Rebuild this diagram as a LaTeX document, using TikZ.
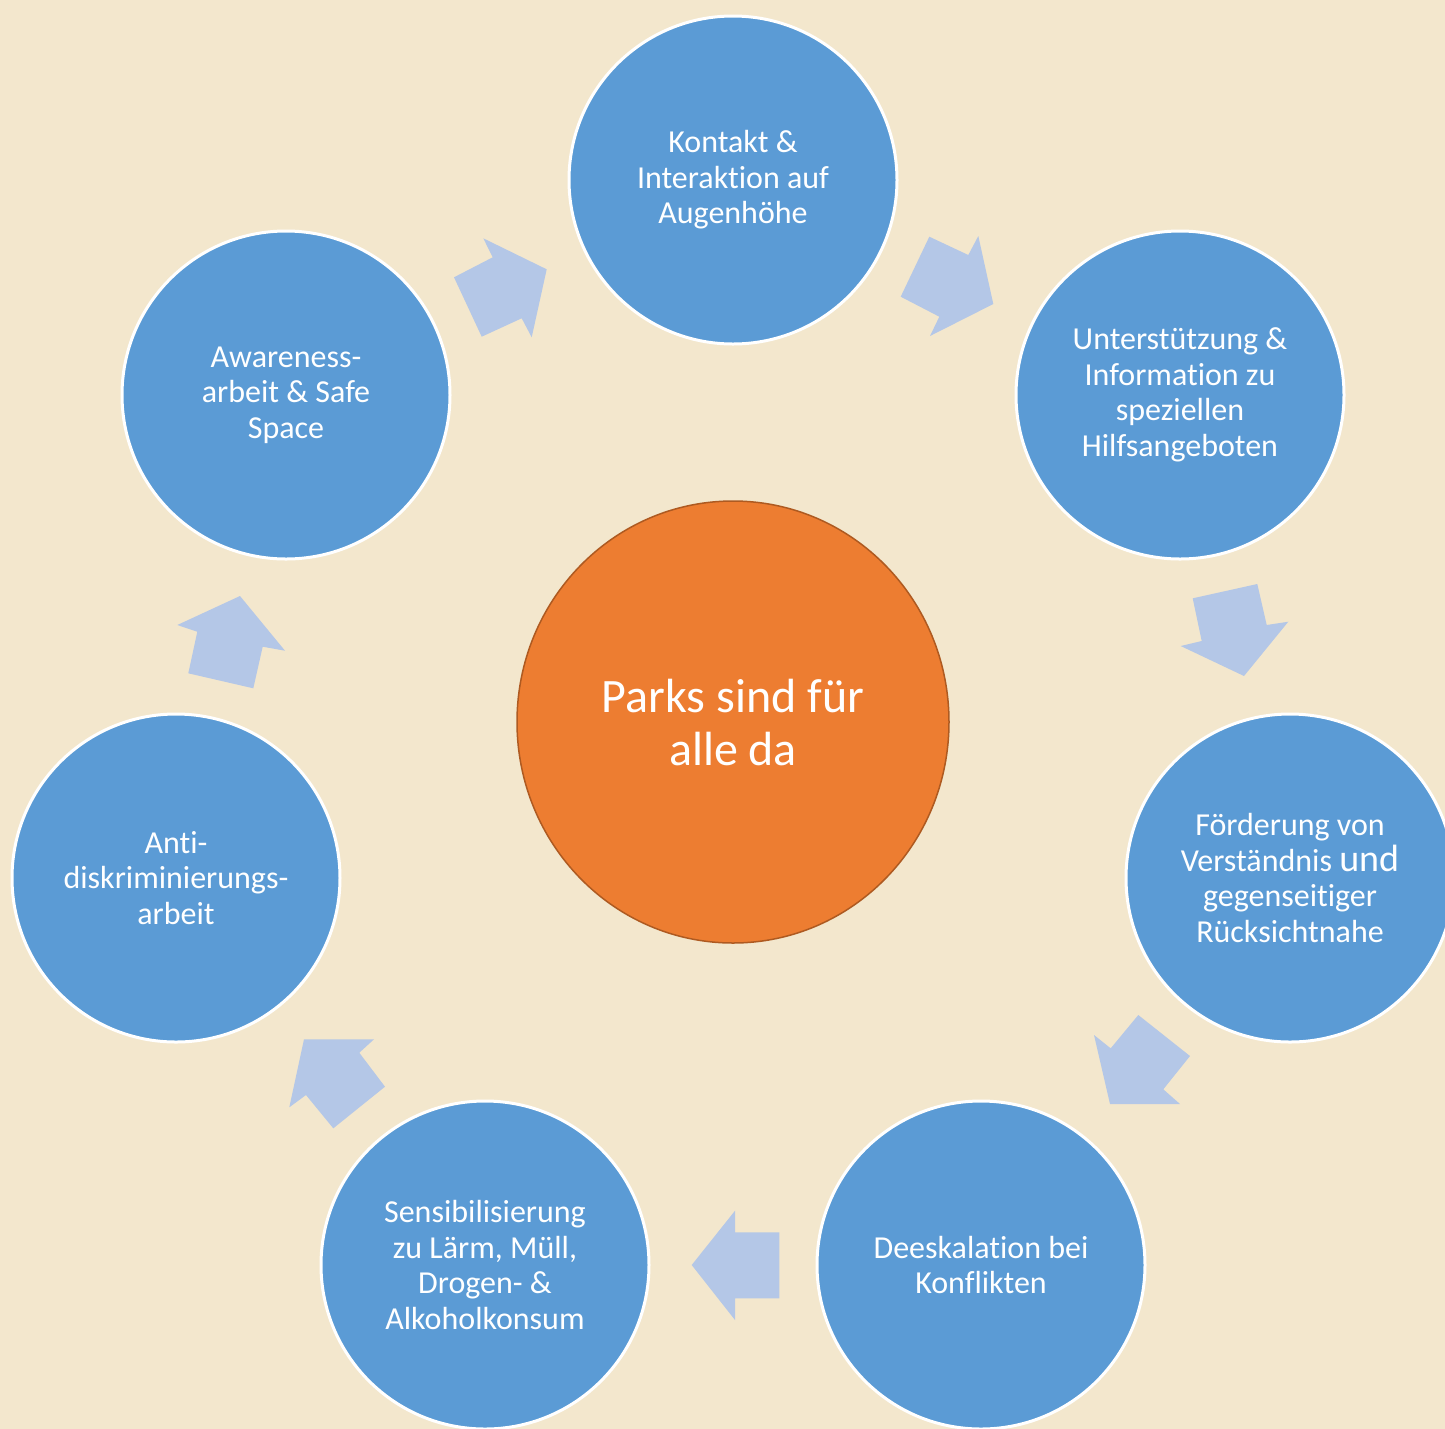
\documentclass[tikz,border=0pt]{standalone}
\usepackage{fontspec}
\setmainfont[Ligatures=NoCommon]{Carlito}
\usetikzlibrary{shapes.geometric}
\definecolor{bg}{HTML}{F3E7CD}
\definecolor{bluefill}{HTML}{5B9BD5}
\definecolor{arrowblue}{HTML}{B4C7E7}
\definecolor{orangefill}{HTML}{ED7D31}
\definecolor{orangeedge}{HTML}{AE5A21}
\begin{document}
\begin{tikzpicture}[x=1pt,y=-1pt,
  bubble/.style={circle,fill=bluefill,draw=white,line width=3pt,minimum size=328pt,inner sep=0pt,
    text=white,align=center,font=\fontsize{32}{35.5}\selectfont},
  hub/.style={ellipse,fill=orangefill,draw=orangeedge,line width=1.5pt,minimum width=432pt,minimum height=442pt,
    inner sep=0pt,text=white,align=center,font=\fontsize{48}{53}\selectfont},
  blockarrow/.style={fill=arrowblue}]
\useasboundingbox (0,0) rectangle (1445,1428);
\clip (-3,-3) rectangle (1448,1431);
\fill[bg] (-3,-3) rectangle (1448,1431);

\node[bubble] (c1) at (733,180) {Kontakt \&\\Interaktion auf\\Augenhöhe};
\node[bubble] (c2) at (1180,395) {Unterstützung \&\\Information zu\\speziellen\\Hilfsangeboten};
\node[bubble] (c3) at (1290,878) {Förderung von\\Verständnis {\fontsize{38}{35.5}\selectfont und}\\gegenseitiger\\Rücksichtnahe};
\node[bubble] (c4) at (981,1265) {Deeskalation bei\\Konflikten};
\node[bubble] (c5) at (485,1265) {Sensibilisierung\\zu Lärm, Müll,\\Drogen- \&\\Alkoholkonsum};
\node[bubble] (c6) at (176,878) {Anti-\\diskriminierungs-\\arbeit};
\node[bubble] (c7) at (286,395) {Awareness-\\arbeit \& Safe\\Space};
\node[hub] (hub) at (733,722) {Parks sind für\\alle da};

% block arrows
\fill[blockarrow] (483.3,238.3) -- (546.7,269.3) -- (531.7,337.3) -- (521.7,318.3) -- (481.7,336.7) -- (454,277.3) -- (492.7,257.3) -- cycle;
\fill[blockarrow] (929.3,236.7) -- (968.3,255) -- (978.3,236) -- (993.3,304) -- (930,336) -- (939.3,316.7) -- (900.7,296.7) -- cycle;
\fill[blockarrow] (1192.7,598.3) -- (1257.3,584) -- (1266.7,625) -- (1288.3,621.7) -- (1244,676) -- (1180.7,646) -- (1201.7,641) -- cycle;
\fill[blockarrow] (1138.3,1015) -- (1190,1056) -- (1163.3,1089.3) -- (1180,1104) -- (1110,1104) -- (1094,1035) -- (1110.7,1048.3) -- cycle;
\fill[blockarrow] (779.3,1232.3) -- (735,1232.3) -- (735,1210.7) -- (691.7,1265) -- (735,1320) -- (735,1298.3) -- (779.3,1298.3) -- cycle;
\fill[blockarrow] (304,1039.3) -- (374,1039.3) -- (359.3,1052.7) -- (385,1086.7) -- (333.3,1128.3) -- (306,1095) -- (289.3,1107.3) -- cycle;
\fill[blockarrow] (240,596) -- (285,650.7) -- (262.7,646.7) -- (253.3,688.3) -- (188.3,673.3) -- (197.3,631.7) -- (177.3,625) -- cycle;
\end{tikzpicture}
\end{document}
